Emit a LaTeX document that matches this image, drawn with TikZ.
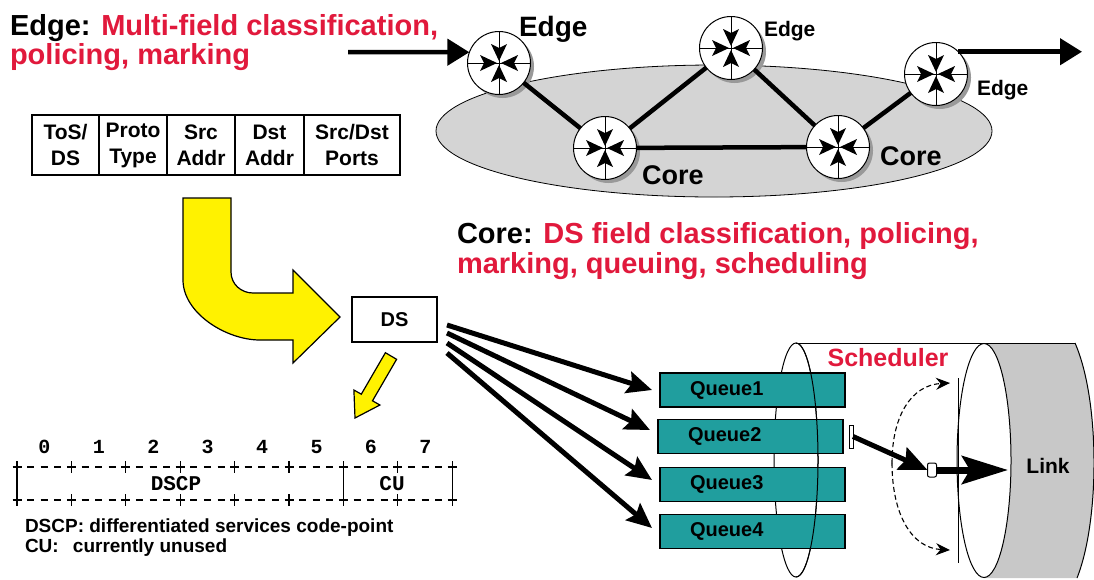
\documentclass[tikz,border=0pt]{standalone}
\usepackage{fontspec}
\setmainfont{Liberation Sans}
\newfontfamily\bitfont{Liberation Mono}
\usetikzlibrary{arrows.meta,shadows,calc}
\definecolor{titlered}{RGB}{225,25,60}
\definecolor{queueteal}{RGB}{32,158,158}
\definecolor{cloudgray}{RGB}{212,212,212}
\definecolor{linkgray}{RGB}{200,200,200}
\newcommand\setfs[1]{\fontsize{#1}{#1}\selectfont\bfseries}

\begin{document}
\begin{tikzpicture}[x=1pt,y=-1pt,
  every node/.style={inner sep=0pt, outer sep=0pt},
  router/.style={circle, draw, line width=1pt, fill=white, minimum size=63pt,
    drop shadow={shadow xshift=3.5pt, shadow yshift=-3.5pt, fill=black!40, opacity=1},
    path picture={
      \begin{scope}[shift={(path picture bounding box.center)}]
        \draw[black, line width=0.8pt] (-35,0) -- (35,0) (0,-35) -- (0,35);
        \fill[black] (2,0) -- (19,-8) -- (15,0) -- (19,8) -- cycle
                     (-2,0) -- (-19,-8) -- (-15,0) -- (-19,8) -- cycle
                     (0,2) -- (-8,19) -- (0,15) -- (8,19) -- cycle
                     (0,-2) -- (-8,-19) -- (0,-15) -- (8,-19) -- cycle;
      \end{scope}}},
  netlink/.style={line width=4.5pt},
  bigarrow/.style={line width=4.5pt, -{Triangle[length=22pt,width=26pt]}},
  dsarrow/.style={line width=5pt, -{Stealth[length=25pt,width=22pt,inset=4pt]}},
  cell/.style={draw, line width=1.4pt, minimum height=60pt, align=center,
    font=\fontsize{21}{26}\selectfont\bfseries},
  queue/.style={draw, line width=1.3pt, fill=queueteal, minimum height=34pt,
    text width=125pt, inner xsep=30pt, align=left, font=\setfs{20}},
  bitrule/.style={line width=1.3pt},
  schedarc/.style={line width=1.1pt, dash pattern=on 5pt off 3pt,
    -{Stealth[length=14pt,width=12pt]}}]

\useasboundingbox (0,0) rectangle (1094,579);
\fill[white] (0,0) rectangle (1094,579);

% ---------- network cloud with edge and core routers ----------
\draw[fill=cloudgray, line width=0.8pt] (714,131) ellipse [x radius=278, y radius=66];

\node[router] (r1) at (499,63) {};
\node[router] (r2) at (605,148) {};
\node[router] (r3) at (731,48) {};
\node[router] (r4) at (838,147) {};
\node[router] (r5) at (936,74) {};

\draw[netlink] (r1) -- (r2);
\draw[netlink] (r2) -- (r3);
\draw[netlink] (r3) -- (r4);
\draw[netlink] (r4) -- (r5);
\draw[netlink] (r2) -- (r4);

\coordinate (ein) at (348,52);
\coordinate (eout) at (1082,0);
\draw[bigarrow] (ein) -- (r1.160);
\draw[bigarrow] (r5.45) -- (r5.45 -| eout);

\node[anchor=base west, font=\setfs{28}] (l1) at (519,36) {Edge};
\node[anchor=base west, font=\setfs{21}] (l3) at (764,36) {Edge};
\node[anchor=base west, font=\setfs{21}] (l5) at (977,95) {Edge};
\node[anchor=base west, font=\setfs{27}] (l2) at (642,184) {Core};
\node[anchor=base west, font=\setfs{27}] (l4) at (880,165) {Core};

% ---------- headings ----------
\node[anchor=base west, font=\setfs{29}] (edgehead) at (10,35)
  {Edge: \textcolor{titlered}{Multi-field classification,}};
\node[anchor=base west, font=\setfs{29}, text=titlered] (edgehead2) at (10,64)
  {policing, marking};
\node[anchor=base west, font=\setfs{29}] (corehead) at (457,243)
  {Core: \textcolor{titlered}{DS field classification, policing,}};
\node[anchor=base west, font=\setfs{29}, text=titlered] (corehead2) at (457,273)
  {marking, queuing, scheduling};

% ---------- multi-field header ----------
\node[cell, minimum width=67pt] (f1) at (65.5,145) {ToS/\\DS};
\node[cell, minimum width=68pt] (f2) at (133,145) {Proto\\Type};
\node[cell, minimum width=68pt] (f3) at (201,145) {Src\\Addr};
\node[cell, minimum width=69pt] (f4) at (269.5,145) {Dst\\Addr};
\node[cell, minimum width=96pt] (f5) at (352,145) {Src/Dst\\Ports};

% big bent yellow arrow
\draw[fill=yellow, line width=1.2pt, line join=miter]
  (183,198) -- (231,198) -- (231,272) .. controls (231,284) and (241,293) .. (253,293)
  -- (293,293) -- (293,270) -- (340,317) -- (293,363) -- (293,340) -- (260,340)
  .. controls (226,340) and (183,313) .. (183,280) -- cycle;

% DS byte
\node[draw, line width=1.3pt, minimum width=85pt, minimum height=45pt, font=\setfs{20}]
  (ds) at (394.5,319.5) {DS};

% small yellow arrow
\draw[fill=yellow, line width=1.2pt, line join=miter]
  (385.4,352.7) -- (361.3,394.2) -- (353.9,390.0) -- (355,418)
  -- (379.9,405.0) -- (372.5,400.8) -- (396.6,359.3) -- cycle;

% ---------- DS byte layout ----------
\foreach \i in {0,...,7}
  \node[anchor=base, font=\bitfont\fontsize{20}{20}\selectfont\bfseries] (bit\i)
    at ({44.5+54.4*\i},453) {\i};
\foreach \y in {467,500}{
  \foreach \j in {0,...,8}
    \draw[bitrule] ({17+54.4*\j-4.5},\y) -- ({17+54.4*\j+4.5},\y)
                   ({17+54.4*\j},{\y-6}) -- ({17+54.4*\j},{\y+6});
  \foreach \j in {0,...,7}
    \foreach \k in {1,2,3}
      \draw[bitrule] ({17+54.4*\j+13.6*\k-3.5},\y) -- ({17+54.4*\j+13.6*\k+3.5},\y);
}
\draw[bitrule] (17,467) -- (17,500) (343.4,467) -- (343.4,500) (452.2,467) -- (452.2,500);
\node[font=\bitfont\fontsize{21}{21}\selectfont\bfseries] (dscp) at (176,484) {DSCP};
\node[font=\bitfont\fontsize{21}{21}\selectfont\bfseries] (cu) at (392,484) {CU};

\node[anchor=base west, font=\setfs{19}] (leg1) at (25,532)
  {DSCP: differentiated services code-point};
\node[anchor=base west, font=\setfs{19}] (leg2) at (25,552)
  {\makebox[48pt][l]{CU:}currently unused};

% ---------- scheduler and outgoing link ----------
\fill[linkgray] (984,343) -- (1075,343) .. controls (1100,400) and (1100,520) .. (1077,578)
  -- (984,578) -- cycle;
\draw[line width=1pt] (1075,343) .. controls (1100,400) and (1100,520) .. (1077,578);
\draw[fill=white, line width=1pt] (984,460.5) ellipse [x radius=27, y radius=117];
\draw[line width=1pt] (958.5,378) -- (958.5,563);
\draw[line width=1pt] (796,343) -- (1075,343);
\draw[line width=1pt] (796,460) ellipse [x radius=22, y radius=117];

\node[queue] (q1) at (752.5,390) {Queue1};
\node[queue] (q2) at (750.5,436.5) {Queue2};
\node[queue] (q3) at (752.5,484.5) {Queue3};
\node[queue] (q4) at (752.5,531.5) {Queue4};

% front half of the scheduler ring
\draw[line width=1pt] (796,343) arc[start angle=-90, end angle=90, x radius=22, y radius=117];

\draw[dsarrow] ([xshift=10pt,yshift=-5.5pt]ds.east) -- ([xshift=-8pt]q1.west);
\draw[dsarrow] ([xshift=10pt,yshift=-13.5pt]ds.east) -- ([xshift=-8pt,yshift=6.5pt]q2.west);
\draw[dsarrow] ([xshift=10pt,yshift=-23.5pt]ds.east) -- ([xshift=-8pt,yshift=4.5pt]q3.west);
\draw[dsarrow] ([xshift=10pt,yshift=-33.5pt]ds.east) -- ([xshift=-8pt,yshift=3.5pt]q4.west);

\node[draw, fill=white, line width=1pt, minimum width=4pt, minimum height=23pt] (bar) at (851,436.5) {};
\node[draw, fill=white, line width=1pt, rounded corners=2pt, minimum width=9pt, minimum height=14pt] (sq) at (932,470) {};
\coordinate (linktip) at (1008,470);
\coordinate (dstart) at (892,463);
\coordinate (dtop) at (950,383);
\coordinate (dbot) at (950,550);

\draw[schedarc] (dstart) .. controls (892,415) and (912,385) .. (dtop);
\draw[schedarc] (dstart) .. controls (892,515) and (912,548) .. (dbot);
\draw[line width=5pt, -{Stealth[length=28pt,width=24pt,inset=4pt]}] (bar.east) -- (sq.west);
\draw[line width=7pt, -{Stealth[length=46pt,width=28pt,inset=8pt]}] (sq.east) -- (linktip);

\node[font=\setfs{25}, text=titlered] (sched) at (888,358) {Scheduler};
\node[font=\setfs{21}] (link) at (1048,466) {Link};
\end{tikzpicture}
\end{document}
